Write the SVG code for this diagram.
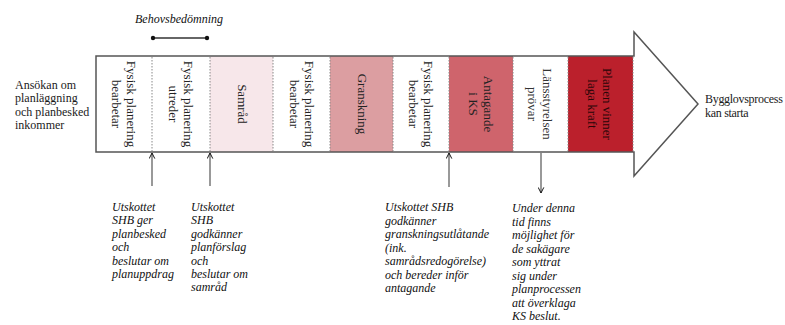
<svg xmlns="http://www.w3.org/2000/svg" width="785" height="325" viewBox="0 0 785 325">
<style>
.lbl{font-family:"Liberation Serif",serif;font-size:12px;fill:#1a1a1a}
.note{font-family:"Liberation Serif",serif;font-size:12px;font-style:italic;fill:#111}
.vt{font-family:"Liberation Serif",serif;font-size:13px;fill:#222;text-anchor:middle;dominant-baseline:central}
.div{stroke:#888;stroke-width:1;stroke-dasharray:1.5 1.5}
.conn{stroke:#555;stroke-width:1.2;fill:none}
</style>
<defs>
<marker id="ah" viewBox="0 0 10 10" refX="9" refY="5" markerWidth="7" markerHeight="7" orient="auto" markerUnits="userSpaceOnUse">
<path d="M1,1 L9,5 L1,9" fill="none" stroke="#111" stroke-width="1.4"/>
</marker>
</defs>
<rect width="785" height="325" fill="#fff"/>
<g id="big-arrow">
<rect x="210" y="56" width="63" height="96" fill="#f7e7ea"/>
<rect x="330" y="56" width="63" height="96" fill="#dc9ea1"/>
<rect x="449" y="56" width="64" height="96" fill="#cf646c"/>
<rect x="568" y="56" width="65" height="96" fill="#bb202c"/>
<polygon points="96,56 634,56 634,32 698,104 634,176 634,152 96,152" fill="none" stroke="#555" stroke-width="1.5"/>
<line class="div" x1="152" y1="57" x2="152" y2="151"/>
<line class="div" x1="210" y1="57" x2="210" y2="151"/>
<line class="div" x1="273" y1="57" x2="273" y2="151"/>
<line class="div" x1="330" y1="57" x2="330" y2="151"/>
<line class="div" x1="393" y1="57" x2="393" y2="151"/>
<line class="div" x1="449" y1="57" x2="449" y2="151"/>
<line class="div" x1="513" y1="57" x2="513" y2="151"/>
<line class="div" x1="568" y1="57" x2="568" y2="151"/>
<line class="div" x1="633" y1="57" x2="633" y2="151"/>
</g>
<g id="cell1"><text class="vt" transform="translate(124,104) rotate(90)"><tspan x="0" y="-7.5">Fysisk planering</tspan><tspan x="0" y="7.5">bearbetar</tspan></text></g>
<g id="cell2"><text class="vt" transform="translate(181,104) rotate(90)"><tspan x="0" y="-7.5">Fysisk planering</tspan><tspan x="0" y="7.5">utreder</tspan></text></g>
<g id="cell3"><text class="vt" transform="translate(242,104) rotate(90)">Samråd</text></g>
<g id="cell4"><text class="vt" transform="translate(302,104) rotate(90)"><tspan x="0" y="-7.5">Fysisk planering</tspan><tspan x="0" y="7.5">bearbetar</tspan></text></g>
<g id="cell5"><text class="vt" transform="translate(362,104) rotate(90)">Granskning</text></g>
<g id="cell6"><text class="vt" transform="translate(421,104) rotate(90)"><tspan x="0" y="-7.5">Fysisk planering</tspan><tspan x="0" y="7.5">bearbetar</tspan></text></g>
<g id="cell7"><text class="vt" transform="translate(481,104) rotate(90)"><tspan x="0" y="-7.5">Antagande</tspan><tspan x="0" y="7.5">i KS</tspan></text></g>
<g id="cell8"><text class="vt" transform="translate(540,104) rotate(90)" style="fill:#333"><tspan x="0" y="-7.5">Länsstyrelsen</tspan><tspan x="0" y="7.5">prövar</tspan></text></g>
<g id="cell9"><text class="vt" transform="translate(600,104) rotate(90)" style="fill:#2a0608"><tspan x="0" y="-7.5">Planen vinner</tspan><tspan x="0" y="7.5">laga kraft</tspan></text></g>
<g id="start"><text class="lbl" x="15" y="89"><tspan x="15">Ansökan om</tspan><tspan x="15" dy="13.3">planläggning</tspan><tspan x="15" dy="13.3">och planbesked</tspan><tspan x="15" dy="13.3">inkommer</tspan></text></g>
<g id="end"><text class="lbl" x="705" y="103" style="letter-spacing:-0.3px"><tspan x="705">Bygglovsprocess</tspan><tspan x="705" dy="14">kan starta</tspan></text></g>
<g id="behov">
<text class="note" x="179" y="23" text-anchor="middle">Behovsbedömning</text>
<line x1="153" y1="38" x2="207" y2="38" stroke="#333" stroke-width="1.3"/>
<circle cx="153" cy="38" r="2.2" fill="#111"/>
<circle cx="207" cy="38" r="2.2" fill="#111"/>
</g>
<g id="connectors">
<line class="conn" x1="152" y1="186" x2="152" y2="153" marker-end="url(#ah)"/>
<line class="conn" x1="210" y1="186" x2="210" y2="153" marker-end="url(#ah)"/>
<line class="conn" x1="449" y1="187" x2="449" y2="153" marker-end="url(#ah)"/>
<line class="conn" x1="541" y1="153" x2="541" y2="193" marker-end="url(#ah)"/>
</g>
<g id="note1"><text class="note" y="211"><tspan x="112">Utskottet</tspan><tspan x="112" dy="13.4">SHB ger</tspan><tspan x="112" dy="13.4">planbesked</tspan><tspan x="112" dy="13.4">och</tspan><tspan x="112" dy="13.4">beslutar om</tspan><tspan x="112" dy="13.4">planuppdrag</tspan></text></g>
<g id="note2"><text class="note" y="211"><tspan x="191">Utskottet</tspan><tspan x="191" dy="13.4">SHB</tspan><tspan x="191" dy="13.4">godkänner</tspan><tspan x="191" dy="13.4">planförslag</tspan><tspan x="191" dy="13.4">och</tspan><tspan x="191" dy="13.4">beslutar om</tspan><tspan x="191" dy="13.4">samråd</tspan></text></g>
<g id="note3"><text class="note" y="211"><tspan x="385">Utskottet SHB</tspan><tspan x="385" dy="13.5">godkänner</tspan><tspan x="385" dy="13.5">granskningsutlåtande</tspan><tspan x="385" dy="13.5">(ink.</tspan><tspan x="385" dy="13.5">samrådsredogörelse)</tspan><tspan x="385" dy="13.5">och bereder inför</tspan><tspan x="385" dy="13.5">antagande</tspan></text></g>
<g id="note4"><text class="note" y="212"><tspan x="512">Under denna</tspan><tspan x="512" dy="13.5">tid finns</tspan><tspan x="512" dy="13.5">möjlighet för</tspan><tspan x="512" dy="13.5">de sakägare</tspan><tspan x="512" dy="13.5">som yttrat</tspan><tspan x="512" dy="13.5">sig under</tspan><tspan x="512" dy="13.5">planprocessen</tspan><tspan x="512" dy="13.5">att överklaga</tspan><tspan x="512" dy="13.5">KS beslut.</tspan></text></g>
</svg>
